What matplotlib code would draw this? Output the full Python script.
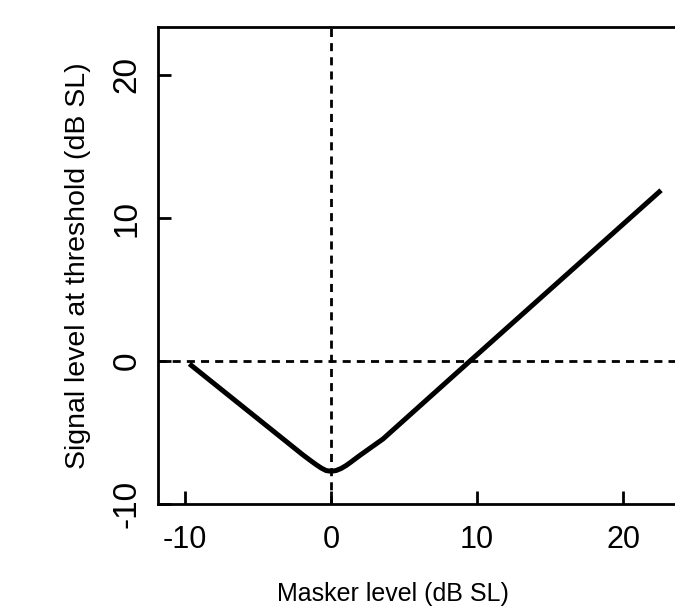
import numpy as np
import matplotlib
matplotlib.use('Agg')
import matplotlib.pyplot as plt

plt.rcParams['font.family'] = ['Liberation Sans', 'DejaVu Sans']

# threshold curve (dB SL)
masker = [-9.7, -1.92, -1.37, -1.03, -0.68, -0.34, 0.0, 0.34, 0.68, 1.03, 1.37, 1.92, 3.56, 9.57, 22.6]
signal = [-0.2, -6.57, -6.99, -7.24, -7.48, -7.66, -7.71, -7.66, -7.52, -7.31, -7.06, -6.64, -5.45, 0.05, 11.94]

xticks = [-10, 0, 10, 20]
yticks = [-10, 0, 10, 20]

fig = plt.figure(figsize=(6.75, 6.11), dpi=100)
ax = fig.add_axes([0.2341, 0.1751, 0.803, 0.7815])

ax.axvline(0, color='black', lw=2, dashes=(2.9, 2.2))
ax.axhline(0, color='black', lw=2, dashes=(2.9, 2.2))
ax.plot(masker, signal, color='black', lw=3.6, solid_capstyle='butt', solid_joinstyle='round')

ax.set_xlim(-11.85, 25.27)
ax.set_ylim(-10, 23.39)
ax.set_xticks(xticks)
ax.set_yticks(yticks)
ax.set_xticklabels([str(t) for t in xticks])
ax.set_yticklabels([str(t) for t in yticks])

for s in ax.spines.values():
    s.set_linewidth(2)
ax.tick_params(direction='in', length=9.5, width=2)
ax.tick_params(axis='x', pad=15, labelsize=22)
ax.tick_params(axis='y', pad=11, labelsize=24, labelrotation=90)
for lbl in ax.get_yticklabels():
    lbl.set_va('center')

ax.set_xlabel('Masker level (dB SL)', fontsize=18)
ax.xaxis.set_label_coords(0.434, -0.163)
ax.set_ylabel('Signal level at threshold (dB SL)', fontsize=20.5, labelpad=15)

plt.savefig('out.png', dpi=100)
